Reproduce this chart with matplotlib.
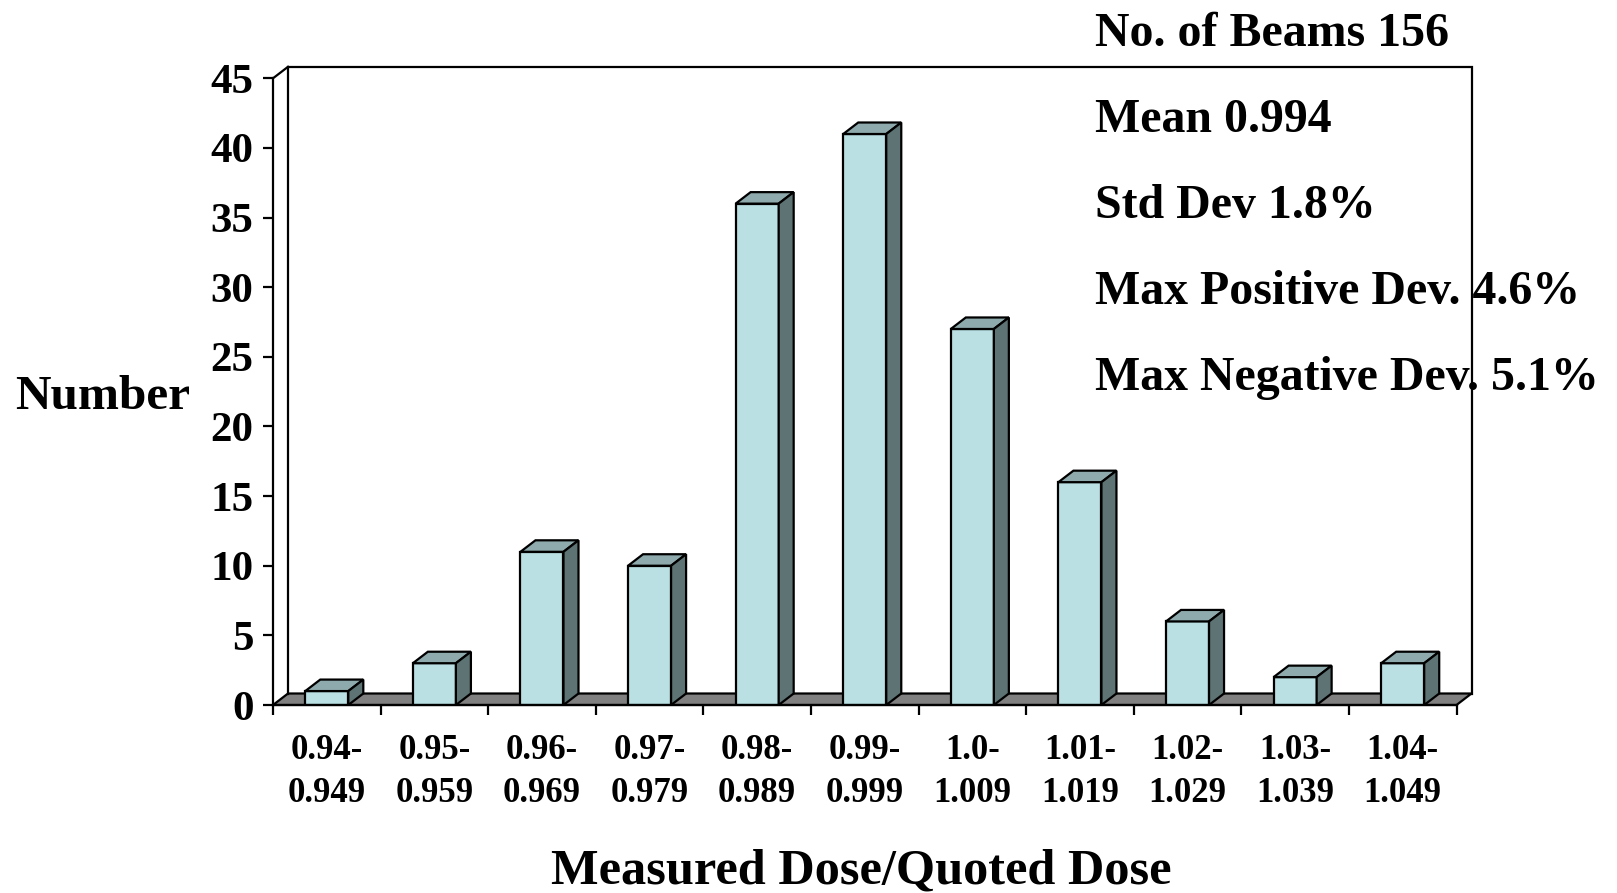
import matplotlib
matplotlib.use("Agg")
import matplotlib.pyplot as plt
from matplotlib.patches import Polygon

# histogram of measured/quoted dose ratio
categories = ["0.94-\n0.949", "0.95-\n0.959", "0.96-\n0.969", "0.97-\n0.979",
              "0.98-\n0.989", "0.99-\n0.999", "1.0-\n1.009", "1.01-\n1.019",
              "1.02-\n1.029", "1.03-\n1.039", "1.04-\n1.049"]
counts = [1, 3, 11, 10, 36, 41, 27, 16, 6, 2, 3]
yticks = [0, 5, 10, 15, 20, 25, 30, 35, 40, 45]
stats = ["No. of Beams 156", "Mean 0.994", "Std Dev 1.8%",
         "Max Positive Dev. 4.6%", "Max Negative Dev. 5.1%"]

plt.rcParams['font.family'] = ['Liberation Serif', 'DejaVu Serif']
plt.rcParams['font.weight'] = 'bold'

W, H = 1617, 893
fig = plt.figure(figsize=(W/100, H/100), dpi=100)
# axes = front plane of the 3d box (pixel positions)
x0, x1, y0, y1 = 273, 1456.5, 705, 78.3
ax = fig.add_axes([x0/W, 1-y0/H, (x1-x0)/W, (y0-y1)/H])
n = len(counts)
ax.set_xlim(-0.5, n-0.5)
ax.set_ylim(0, 45)

# depth offset in data units
dx = 15/((x1-x0)/n)
dy = 11.5/((y0-y1)/45)
w = 0.4
front = '#BAE0E4'
topc = '#8FAAAC'
sidec = '#5E7474'
lw = 1.6

# floor
ax.add_patch(Polygon([(-0.5, 0), (n-0.5, 0), (n-0.5+dx, dy), (-0.5+dx, dy)],
                     closed=True, fc='#808080', ec='black', lw=lw, clip_on=False, zorder=1))
# back wall
ax.plot([-0.5+dx, -0.5+dx, n-0.5+dx, n-0.5+dx], [dy, 45+dy, 45+dy, dy],
        color='black', lw=lw, clip_on=False, zorder=1, solid_joinstyle='miter')
ax.plot([-0.5, -0.5+dx], [45, 45+dy], color='black', lw=lw, clip_on=False, zorder=1)

# bars
xs = list(range(n))
ax.bar(xs, counts, width=w, color=front, edgecolor='black', linewidth=lw, zorder=3)
for i, v in zip(xs, counts):
    l, r = i-w/2, i+w/2
    ax.add_patch(Polygon([(l, v), (r, v), (r+dx, v+dy), (l+dx, v+dy)], closed=True,
                         fc=topc, ec='black', lw=lw, clip_on=False, zorder=3, joinstyle='miter'))
    ax.add_patch(Polygon([(r, 0), (r+dx, dy), (r+dx, v+dy), (r, v)], closed=True,
                         fc=sidec, ec='black', lw=lw, clip_on=False, zorder=3, joinstyle='miter'))

for s in ['top', 'right']:
    ax.spines[s].set_visible(False)
ax.spines['left'].set_linewidth(lw)
ax.spines['bottom'].set_linewidth(lw)
ax.spines['left'].set_zorder(4)
ax.spines['bottom'].set_zorder(4)
ax.patch.set_alpha(0)

ax.set_yticks(yticks)
ax.tick_params(axis='y', direction='out', length=7, width=lw, pad=7, labelsize=31)
ax.set_xticks([i-0.5 for i in range(n+1)])
ax.set_xticklabels([])
ax.tick_params(axis='x', which='major', direction='out', length=7, width=lw)
ax.set_xticks(xs, minor=True)
ax.set_xticklabels(categories, minor=True, fontsize=25, linespacing=1.38)
ax.tick_params(axis='x', which='minor', length=0, pad=21)
for t in ax.get_yticklabels():
    t.set_fontweight('bold')

fig.text(103/W, 1-409/H, "Number", fontsize=35.5, ha='center', va='baseline')
fig.text(861/W, 1-884/H, "Measured Dose/Quoted Dose", fontsize=36.3, ha='center', va='baseline')
for k, s in enumerate(stats):
    fig.text(1095/W, 1-(46.5+86*k)/H, s, fontsize=34.5, ha='left', va='baseline')

fig.savefig("out.png", dpi=100)
